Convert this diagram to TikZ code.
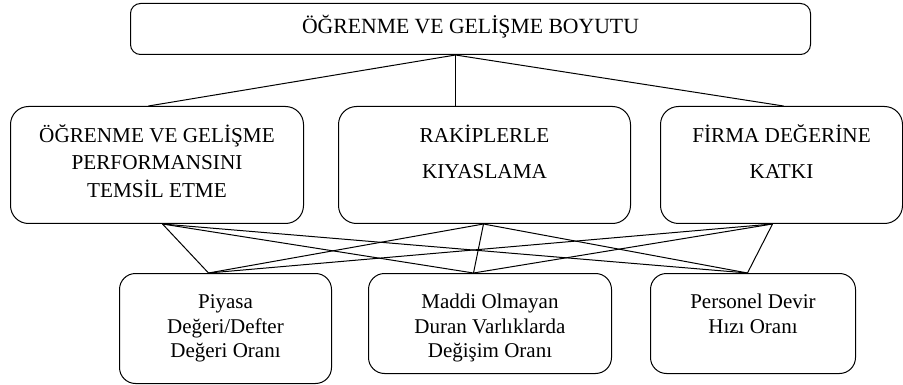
\documentclass[tikz,border=0pt]{standalone}
\usepackage{fontspec}
\setmainfont{Liberation Serif}
\usepackage{tikz}

\newcommand{\cell}[4]{\parbox[c][#2][t]{#1}{\centering\rule{0pt}{#3}#4}}

\begin{document}
\begin{tikzpicture}
[
x=1pt, y=-1pt,
box/.style={draw, line width=1pt, inner sep=0pt, anchor=north west},
every path/.style={line width=1pt},
big/.style={font=\fontsize{21.2}{27.5}\selectfont},
wide/.style={font=\fontsize{21.2}{36}\selectfont},
small/.style={font=\fontsize{21}{24.5}\selectfont}
]
\useasboundingbox (0,0) rectangle (903,385);

% ust kutu
\node[box, rounded corners=10pt, font=\fontsize{21.7}{26}\selectfont] (boyut) at (130,3)
	{\cell{680pt}{51pt}{30pt}{ÖĞRENME VE GELİŞME BOYUTU}};

% orta sira
\node[box, big, rounded corners=18pt] (temsil) at (10,106)
	{\cell{293pt}{117pt}{36pt}{ÖĞRENME VE GELİŞME\\PERFORMANSINI\\TEMSİL ETME}};
\node[box, wide, rounded corners=18pt] (rakip) at (338,106)
	{\cell{292pt}{117pt}{36pt}{RAKİPLERLE\\KIYASLAMA}};
\node[box, wide, rounded corners=18pt] (firma) at (660,106)
	{\cell{242pt}{117pt}{36pt}{FİRMA DEĞERİNE\\KATKI}};

% alt sira
\node[box, small, rounded corners=16pt] (piyasa) at (119,273)
	{\cell{212pt}{110pt}{35pt}{Piyasa\\Değeri/Defter\\Değeri Oranı}};
\node[box, small, rounded corners=16pt] (maddi) at (368,273)
	{\cell{243pt}{100pt}{35pt}{Maddi Olmayan\\Duran Varlıklarda\\Değişim Oranı}};
\node[box, small, rounded corners=16pt] (personel) at (650,273)
	{\cell{205pt}{100pt}{35pt}{Personel Devir\\Hızı Oranı}};

\coordinate (boyut-s) at ([xshift=-15pt]boyut.south);
\coordinate (temsil-n) at ([xshift=-8.5pt]temsil.north);
\coordinate (rakip-n) at ([xshift=-29pt]rakip.north);
\coordinate (firma-n) at ([xshift=2pt]firma.north);
\coordinate (temsil-s) at ([xshift=5.5pt]temsil.south);
\coordinate (rakip-s) at ([xshift=-1pt]rakip.south);
\coordinate (firma-s) at ([xshift=-9pt]firma.south);
\coordinate (piyasa-n) at ([xshift=-17pt]piyasa.north);
\coordinate (maddi-n) at ([xshift=-16.5pt]maddi.north);
\coordinate (personel-n) at ([xshift=-5.5pt]personel.north);

\foreach \b in {temsil, rakip, firma}
	\draw (boyut-s) -- (\b-n);

\foreach \a in {temsil, rakip, firma}
	\foreach \b in {piyasa, maddi, personel}
		\draw (\a-s) -- (\b-n);
\end{tikzpicture}
\end{document}
